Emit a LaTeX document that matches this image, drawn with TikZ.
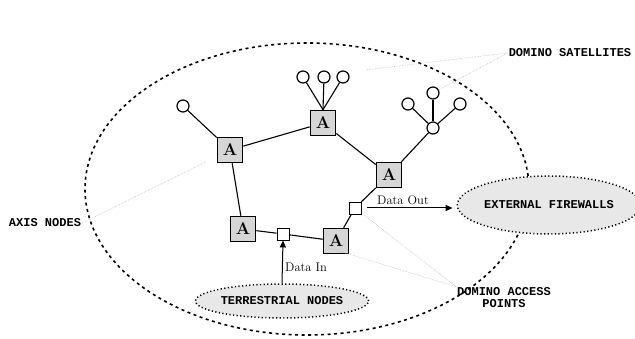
\documentclass[tikz,border=0pt]{standalone}
\usepackage{fontspec}
\newfontfamily\tagfont{Liberation Mono}
\usepackage{tikz}
\usetikzlibrary{positioning,arrows.meta,calc,shapes.geometric}

\begin{document}
\begin{tikzpicture}[
  x=1pt,y=-1pt,
  axis/.style  ={draw,line width=1.6pt,fill=black!16,minimum size=25pt,inner sep=0pt,font=\fontsize{17}{17}\selectfont\bfseries},
  sat/.style   ={draw,circle,line width=1.2pt,fill=white,minimum size=12pt,inner sep=0pt},
  port/.style  ={draw,line width=0.9pt,fill=white,minimum size=12pt,inner sep=0pt},
  cloud/.style ={draw,ellipse,line width=1.5pt,dash pattern=on 1.2pt off 2.4pt,fill=black!9,inner sep=0pt,font=\tagfont\bfseries\fontsize{12}{12}\selectfont},
  tag/.style   ={font=\tagfont\bfseries\fontsize{12}{12}\selectfont,align=center,inner sep=1pt},
  link/.style  ={line width=1.1pt},
  leader/.style={gray!50,densely dotted,line width=0.6pt},
  flow/.style  ={-{Triangle[length=7pt,width=6pt]},line width=1pt}
]
\useasboundingbox (0,0) rectangle (635,339);
% big ring round the network
\draw[line width=1.6pt,dash pattern=on 3pt off 3.5pt] (307,189) ellipse [x radius=222pt,y radius=146pt];
% axis nodes
\node[axis] (a1) at (230,150) {A};
\node[axis] (a2) at (323,123) {A};
\node[axis] (a3) at (389,175) {A};
\node[axis] (a4) at (243,229) {A};
\node[axis] (a5) at (336,241) {A};
% access points
\node[port] (pin)  at (283,234) {};
\node[port] (pout) at (355,208) {};
% satellites
\node[sat] (s0)  at (183,106) {};
\node[sat] (s1)  at (303,77) {};
\node[sat] (s2)  at (324,77) {};
\node[sat] (s3)  at (343,77) {};
\node[sat] (hub) at (433,128) {};
\node[sat] (r1)  at (408,104) {};
\node[sat] (r2)  at (433,93) {};
\node[sat] (r3)  at (460,104) {};
% clouds
\node[cloud,minimum width=166pt,minimum height=58pt] (fw)   at (549,205) {EXTERNAL FIREWALLS};
\node[cloud,minimum width=156pt,minimum height=34pt] (terr) at (282,301) {TERRESTRIAL NODES};
% labels
\node[tag] (satlbl)    at (570,53)  {DOMINO SATELLITES};
\node[tag] (axislbl)   at (45,223)  {AXIS NODES};
\node[tag] (accesslbl) at (504,298) {DOMINO ACCESS\\POINTS};
\node[font=\fontsize{12.5}{13}\selectfont,inner sep=1pt] (outlbl) at (403,200) {Data Out};
\node[font=\fontsize{12.5}{13}\selectfont,inner sep=1pt] (inlbl)  at (306,267) {Data In};
\coordinate (satend) at (365,70);
% links
\draw[link] (a1) -- (a2);
\draw[link] (a2) -- (a3);
\draw[link] (a1) -- (a4);
\draw[link] (a4) -- (pin);
\draw[link] (pin) -- (a5);
\draw[link] (a5) -- (pout);
\draw[link] (pout) -- (a3);
\draw[link] (s0) -- (a1);
\draw[link] (a2.north) -- (s1);
\draw[link] (a2.north) -- (s2);
\draw[link] (a2.north) -- (s3);
\draw[link] (a3) -- (hub);
\draw[link] (hub) -- (r1);
\draw[link] (hub) -- (r2);
\draw[link] (hub) -- (r3);
% data flow
\draw[flow] (terr.north) -- (pin.south);
\draw[flow] ([xshift=6pt]pout.east) -- ([xshift=-4pt]pout.east -| fw.west);
% leaders
\draw[leader] (satlbl.west) -- (satend);
\draw[leader] (satlbl.west) -- (r2);
\draw[leader,shorten >=12pt] (axislbl.east) -- (a1);
\draw[leader,shorten >=4pt] (accesslbl.north west) -- (pout);
\draw[leader,shorten >=40pt] (accesslbl.north west) -- (pin);
\end{tikzpicture}
\end{document}
